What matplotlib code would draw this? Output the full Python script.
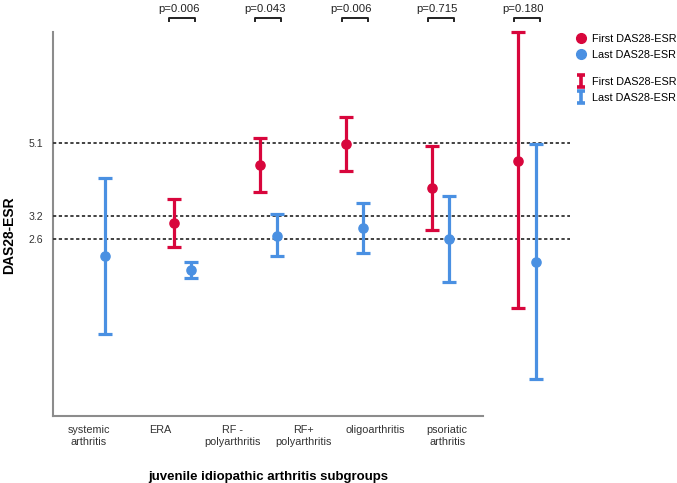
import matplotlib
matplotlib.use("Agg")
import matplotlib.pyplot as plt
from matplotlib.lines import Line2D
from matplotlib.path import Path
import numpy as np

plt.rcParams['font.family'] = ['Liberation Sans', 'DejaVu Sans']

# ---------------- data ----------------
categories = ["systemic\narthritis", "ERA", "RF -\npolyarthritis",
              "RF+\npolyarthritis", "oligoarthritis", "psoriatic\narthritis"]

first_mean = [np.nan, 3.03, 4.54, 5.08, 3.93, 4.64]
first_low  = [np.nan, 2.41, 3.84, 4.39, 2.84, 0.80]
first_high = [np.nan, 3.65, 5.23, 5.78, 5.03, 8.00]

last_mean = [2.17, 1.80, 2.70, 2.90, 2.61, 2.01]
last_low  = [0.13, 1.59, 2.17, 2.25, 1.50, -1.03]
last_high = [4.21, 2.01, 3.25, 3.54, 3.73, 5.08]

p_values = [None, "p=0.006", "p=0.043", "p=0.006", "p=0.715", "p=0.180"]
thresholds = [2.6, 3.2, 5.1]

RED = "#d8063c"
BLUE = "#4a90e2"

W, H = 677, 483
fig = plt.figure(figsize=(W / 100, H / 100), dpi=100)

def rect(x0, x1, ytop, ybot):
    return [x0 / W, 1 - ybot / H, (x1 - x0) / W, (ybot - ytop) / H]

# frame axes: spines, category labels, threshold tick labels
ax = fig.add_axes(rect(53, 483, 32, 416))
ax.set_xlim(-0.5, len(categories) - 0.5)
ax.set_ylim(-2, 8)
for s in ["top", "right"]:
    ax.spines[s].set_visible(False)
for s in ["left", "bottom"]:
    ax.spines[s].set_color("#8c8c8c")
    ax.spines[s].set_linewidth(1.5)
ax.set_xticks(range(len(categories)))
ax.set_xticklabels(categories, fontsize=7.8, color="#333333", linespacing=1.25)
ax.set_yticks(thresholds)
ax.set_yticklabels([str(t) for t in thresholds], fontsize=7.6, color="#333333")
ax.tick_params(axis="both", length=0)
ax.tick_params(axis="x", pad=6.5)
ax.tick_params(axis="y", pad=7)
ax.set_xlabel("juvenile idiopathic arthritis subgroups", fontsize=9.5,
              fontweight="bold", labelpad=17)
ax.set_ylabel("DAS28-ESR", fontsize=10, fontweight="bold")
ax.yaxis.set_label_coords(-0.086, 0.47)

# data axes overlay
dax = fig.add_axes(rect(53, 570, 32, 416))
dax.patch.set_visible(False)
dax.set_xlim(-0.5, len(categories) - 0.5)
dax.set_ylim(-2, 8)
dax.axis("off")

for t in thresholds:
    dax.axhline(t, color="#333333", lw=1.3, ls=(0, (1.8, 1.4)), zorder=1)

x = np.arange(len(categories))
off = 0.1
fm = np.array(first_mean); lm = np.array(last_mean)
ferr = [fm - np.array(first_low), np.array(first_high) - fm]
lerr = [lm - np.array(last_low), np.array(last_high) - lm]

dax.errorbar(x - off, fm, yerr=ferr, fmt="o", color=RED, ms=6.6,
             elinewidth=2.3, capsize=5, capthick=2.3, zorder=3, clip_on=False)
dax.errorbar(x + off, lm, yerr=lerr, fmt="o", color=BLUE, ms=6.6,
             elinewidth=2.3, capsize=5, capthick=2.3, zorder=3, clip_on=False)

# p-value brackets
for i, p in enumerate(p_values):
    if p is None:
        continue
    xl, xr = i - 0.15, i + 0.15
    dax.plot([xl, xl, xr, xr], [8.28, 8.36, 8.36, 8.28], color="#222222",
             lw=1.4, clip_on=False)
    dax.text(i - 0.04, 8.6, p, ha="center", va="center", fontsize=8.2,
             color="#222222", clip_on=False)

# legends
ibar = Path([(-0.6, 1), (0.6, 1), (0, 1), (0, -1), (-0.6, -1), (0.6, -1)],
            [Path.MOVETO, Path.LINETO, Path.MOVETO, Path.LINETO,
             Path.MOVETO, Path.LINETO])
h1 = [Line2D([], [], ls="none", marker="o", color=RED, ms=7),
      Line2D([], [], ls="none", marker="o", color=BLUE, ms=7)]
h2 = [Line2D([], [], ls="none", marker=ibar, color=RED, ms=9, mew=2.6),
      Line2D([], [], ls="none", marker=ibar, color=BLUE, ms=9, mew=2.6)]
labels = ["First DAS28-ESR", "Last DAS28-ESR"]
kw = dict(frameon=False, handlelength=0.8, handletextpad=0.6, labelspacing=0.55,
          borderpad=0, borderaxespad=0, fontsize=7.8, loc="upper left")
leg1 = fig.legend(h1, labels, bbox_to_anchor=(577 / W, 1 - 34 / H), **kw)
leg2 = fig.legend(h2, labels, bbox_to_anchor=(577 / W, 1 - 77 / H), **kw)

fig.savefig("out.png", dpi=100)
